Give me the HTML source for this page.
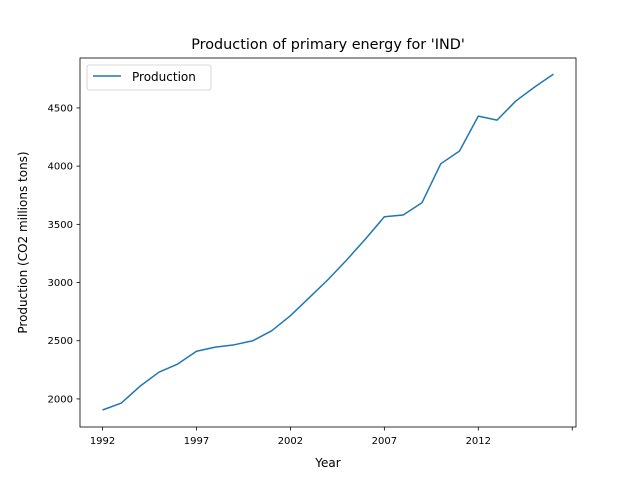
<!DOCTYPE html>
<html><head><meta charset="utf-8"><style>
body{margin:0;background:#fff;}
svg text{font-family:"DejaVu Sans","Liberation Sans",sans-serif;fill:#000;}
</style></head><body>
<svg width="640" height="480" viewBox="0 0 640 480" xmlns="http://www.w3.org/2000/svg">
<rect width="640" height="480" fill="#fff"/>
<text x="328" y="49" font-size="14.4" text-anchor="middle">Production of primary energy for 'IND'</text>
<g id="axes"></g>
<rect x="80" y="58" width="496" height="369" fill="none" stroke="#000" stroke-width="0.8"/>
<text x="328" y="467" font-size="12" text-anchor="middle">Year</text>
<text transform="translate(27,242.5) rotate(-90)" font-size="12" text-anchor="middle">Production (CO2 millions tons)</text>
<g>
<rect x="87" y="65" width="124" height="25" rx="2" fill="#fff" stroke="#ccc" stroke-width="0.8"/>
<line x1="93" y1="76" x2="121" y2="76" stroke="#1f77b4" stroke-width="1.5"/>
<text x="132" y="81" font-size="12">Production</text>
</g>
</svg>
<script>
const years=[1992,1993,1994,1995,1996,1997,1998,1999,2000,2001,2002,2003,2004,2005,2006,2007,2008,2009,2010,2011,2012,2013,2014,2015,2016];
const production=[1905,1965,2110,2230,2300,2410,2445,2465,2500,2585,2715,2870,3025,3195,3375,3565,3580,3685,4020,4130,4430,4395,4560,4680,4790];
const xTicks=[1992,1997,2002,2007,2012,2017];
const xTickLabels=["1992","1997","2002","2007","2012",""];
const yTicks=[2000,2500,3000,3500,4000,4500];
const NS="http://www.w3.org/2000/svg";
const X0=80,X1=576,Y0=427,Y1=58,xmin=1990.8,xmax=2017.2,ymin=1759,ymax=4929;
const sx=v=>X0+(v-xmin)/(xmax-xmin)*(X1-X0);
const sy=v=>Y0-(v-ymin)/(ymax-ymin)*(Y0-Y1);
const g=document.getElementById('axes');
function mk(t,a){const e=document.createElementNS(NS,t);for(const k in a)e.setAttribute(k,a[k]);g.appendChild(e);return e;}
xTicks.forEach((t,i)=>{
 const l=mk('line',{x1:sx(t),x2:sx(t),y1:Y0,y2:Y0+3.5,stroke:'#000','stroke-width':0.8});
 
 
 const tx=mk('text',{x:sx(t),y:Y0+17,'font-size':10,'text-anchor':'middle'});
 tx.textContent=xTickLabels[i];
 
 
});
yTicks.forEach(t=>{
 const l=mk('line',{x1:X0-3.5,x2:X0,y1:sy(t),y2:sy(t),stroke:'#000','stroke-width':0.8});
 
 
 const tx=mk('text',{x:X0-7,y:sy(t)+3.5,'font-size':10,'text-anchor':'end'});
 tx.textContent=t;
 
 
});
const p=mk('polyline',{points:years.map((y,i)=>sx(y)+','+sy(production[i])).join(' '),fill:'none',stroke:'#1f77b4','stroke-width':1.5,'stroke-linejoin':'round'});


</script>
</body></html>
